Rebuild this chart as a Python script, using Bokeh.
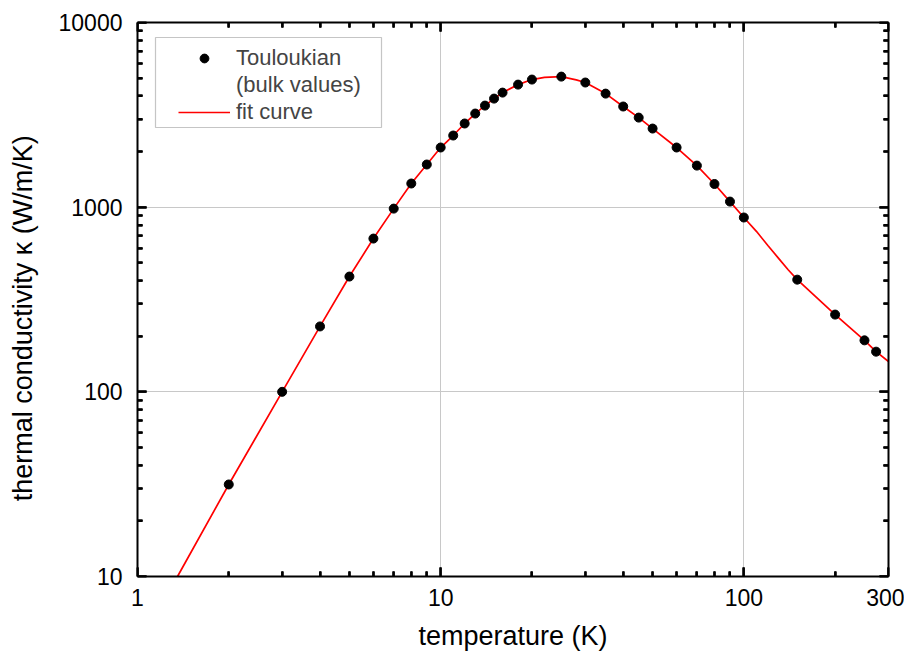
from bokeh.plotting import figure
from bokeh.models import (FixedTicker, LogAxis, NumeralTickFormatter, Legend,
                          LegendItem, Range1d, BoxAnnotation, Arrow,
                          ColumnDataSource)
from bokeh.embed import file_html
from bokeh.resources import INLINE
import math

# Touloukian bulk values
data_T = [2, 3, 4, 5, 6, 7, 8, 9, 10, 11, 12, 13, 14, 15, 16, 18, 20, 25, 30,
          35, 40, 45, 50, 60, 70, 80, 90, 100, 150, 200, 250, 273]
data_k = [31.5, 100, 226, 421, 676, 982, 1343, 1702, 2104, 2443, 2838, 3213,
          3548, 3872, 4172, 4609, 4909, 5093, 4731, 4120, 3508, 3055, 2665,
          2104, 1679, 1335, 1072, 879, 405, 262, 190, 165]

# fit curve
fit_T = [1.355, 2, 3, 4, 5, 6, 7, 8, 9, 10, 11, 12, 13, 14, 15, 16, 18, 20,
         22, 25, 28, 30, 35, 40, 45, 50, 60, 70, 80, 90, 100, 110, 120, 130,
         140, 150, 200, 250, 273, 300]
fit_k = [10, 31.5, 100, 226, 421, 676, 982, 1343, 1702, 2104, 2443, 2838,
         3213, 3548, 3872, 4172, 4609, 4909, 5040, 5093, 4890, 4731, 4120,
         3508, 3055, 2665, 2104, 1679, 1335, 1072, 879, 740, 620, 530, 458,
         405, 262, 190, 165, 146]

x_lo, x_hi = 1, 300
y_lo, y_hi = 10, 10000
x_major = [1, 10, 100, 300]
x_minor = [2, 3, 4, 5, 6, 7, 8, 9, 20, 30, 40, 50, 60, 70, 80, 90, 200]
y_major = [10, 100, 1000, 10000]
y_minor = [20, 30, 40, 50, 60, 70, 80, 90, 200, 300, 400, 500, 600, 700, 800,
           900, 2000, 3000, 4000, 5000, 6000, 7000, 8000, 9000]

FONT = "Liberation Sans"
NBSP = "\u00a0"
TICK = "black"
FW, FH = 751, 554
MAJ, MIN = 9, 5

p = figure(x_axis_type="log", y_axis_type="log",
           x_range=Range1d(x_lo, x_hi), y_range=Range1d(y_lo, y_hi),
           frame_width=FW, frame_height=FH,
           min_border_left=137, min_border_right=16,
           min_border_top=22, min_border_bottom=80,
           output_backend="svg", toolbar_location=None)
p.outline_line_color = None
p.background_fill_color = None
p.border_fill_color = None

xt = FixedTicker(ticks=x_major, minor_ticks=x_minor)
yt = FixedTicker(ticks=y_major, minor_ticks=y_minor)


def style_axis(ax, labels=True, tin=MAJ, tout=0):
    ax.axis_line_color = "black"
    ax.axis_line_width = 2
    ax.major_tick_line_color = TICK
    ax.minor_tick_line_color = TICK
    ax.major_tick_line_width = 2
    ax.minor_tick_line_width = 2
    ax.major_tick_in = tin
    ax.major_tick_out = tout
    ax.minor_tick_in = MIN if tin else 0
    ax.minor_tick_out = MIN if tout else 0
    ax.major_label_text_font = FONT
    ax.major_label_text_font_size = "23px"
    ax.major_label_text_color = "black"
    ax.axis_label_text_font = FONT
    ax.axis_label_text_font_size = "27px"
    ax.axis_label_text_font_style = "normal"
    ax.axis_label_text_color = "black"
    if not labels:
        ax.major_label_text_alpha = 0
        ax.major_label_text_font_size = "0px"


xa = p.xaxis[0]
xa.ticker = xt
xa.formatter = NumeralTickFormatter(format="0")
xa.axis_label = "temperature (K)"
xa.major_label_standoff = 12
xa.axis_label_standoff = 12
style_axis(xa)

ya = p.yaxis[0]
ya.ticker = yt
ya.formatter = NumeralTickFormatter(format="0")
ya.axis_label = "thermal conductivity κ (W/m/K)" + NBSP * 5
ya.major_label_standoff = 15
ya.axis_label_standoff = 18
style_axis(ya)

top = LogAxis(ticker=xt, formatter=NumeralTickFormatter(format="0"))
style_axis(top, labels=False)
p.add_layout(top, "above")
right = LogAxis(ticker=yt, formatter=NumeralTickFormatter(format="0"))
style_axis(right, labels=False)
p.add_layout(right, "right")

# extra tick-only axes pinned to the frame edges, ticks pointing inward
for side, ticker, loc in (("right", yt, x_lo), ("left", yt, x_hi),
                          ("above", xt, y_lo), ("below", xt, y_hi)):
    ax = LogAxis(ticker=ticker, formatter=NumeralTickFormatter(format="0"),
                 fixed_location=loc)
    style_axis(ax, labels=False, tin=0, tout=MAJ)
    ax.axis_line_color = None
    p.add_layout(ax, side)

p.xgrid.ticker = xt
p.ygrid.ticker = yt
for g in (p.xgrid[0], p.ygrid[0]):
    g.grid_line_color = "#c8c8c8"
    g.grid_line_width = 1

line_r = p.line(fit_T, fit_k, line_color="red", line_width=1.7)
pts_r = p.scatter(data_T, data_k, size=9, fill_color="black",
                  line_color="black")
blank_r = p.scatter(data_T[:1], data_k[:1], size=1, fill_alpha=0,
                    line_alpha=0)

# ---- inward tick marks drawn as annotations too ----
px_x = FW / math.log10(x_hi / x_lo)   # pixels per decade
px_y = FH / math.log10(y_hi / y_lo)


def fx(n):
    return 10 ** (n / px_x)


def fy(n):
    return 10 ** (n / px_y)


tk = dict(x0=[], y0=[], x1=[], y1=[])
for ticks, ln in ((y_major, MAJ), (y_minor, MIN)):
    for t in ticks:
        tk["x0"] += [x_lo, x_hi]
        tk["x1"] += [x_lo * fx(ln), x_hi / fx(ln)]
        tk["y0"] += [t, t]
        tk["y1"] += [t, t]
for ticks, ln in ((x_major, MAJ), (x_minor, MIN)):
    for t in ticks:
        tk["x0"] += [t, t]
        tk["x1"] += [t, t]
        tk["y0"] += [y_lo, y_hi]
        tk["y1"] += [y_lo * fy(ln), y_hi / fy(ln)]

p.add_layout(Arrow(x_start="x0", y_start="y0", x_end="x1", y_end="y1",
                   source=ColumnDataSource(tk), start=None, end=None,
                   line_color=TICK, line_width=2))

# ---- legend with its own frame ----
use_box = False
try:
    from bokeh.models import Node
    box = BoxAnnotation(
        left=Node(target="frame", symbol="left", offset=18),
        right=Node(target="frame", symbol="left", offset=244),
        top=Node(target="frame", symbol="top", offset=15),
        bottom=Node(target="frame", symbol="top", offset=105),
        fill_color="white", fill_alpha=1,
        line_color="#404040", line_width=1.2, level="annotation")
    p.add_layout(box)
    use_box = True
except Exception:
    use_box = False

legend = Legend(items=[
    LegendItem(label="Touloukian", renderers=[pts_r]),
    LegendItem(label="(bulk values)", renderers=[blank_r]),
    LegendItem(label="fit curve", renderers=[line_r]),
])
legend.label_text_font = FONT
legend.label_text_font_size = "22px"
legend.glyph_width = 52
legend.glyph_height = 22
legend.label_height = 22
legend.label_standoff = 6
legend.spacing = 1
if use_box:
    legend.location = (41, 451)
    legend.margin = 0
    legend.padding = 0
    legend.border_line_color = None
    legend.background_fill_alpha = 0
else:
    legend.location = "top_left"
    legend.margin = 16
    legend.padding = 12
    legend.border_line_color = "#404040"
p.add_layout(legend, "center")

open("out.html", "w").write(file_html(p, INLINE))
